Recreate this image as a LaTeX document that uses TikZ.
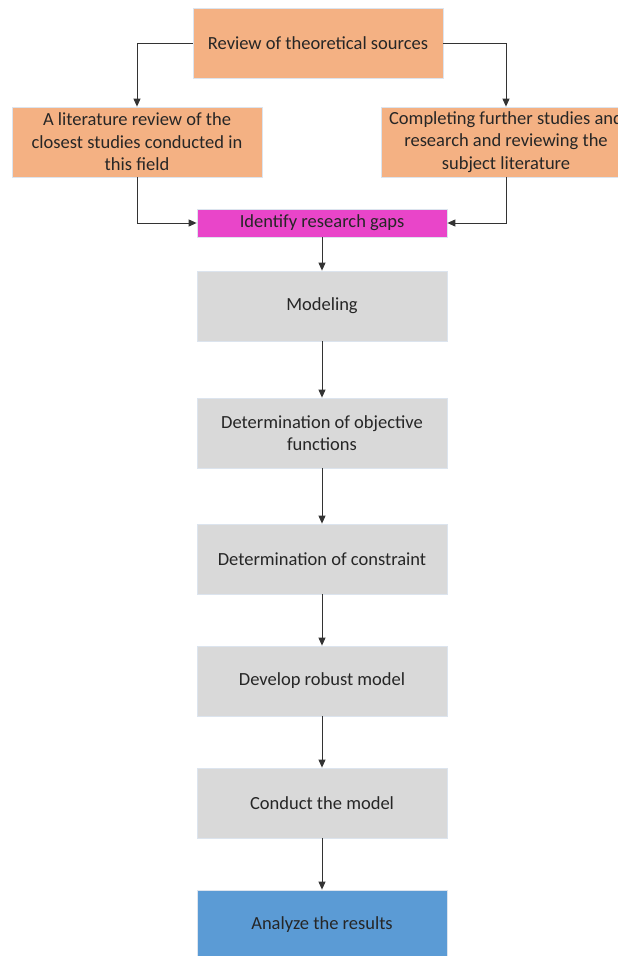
\documentclass[tikz,border=0pt]{standalone}
\usepackage{fontspec}
\setmainfont{Carlito}
\usetikzlibrary{arrows.meta}
\definecolor{orangebox}{HTML}{F4B183}
\definecolor{magbox}{HTML}{E945C9}
\definecolor{graybox}{HTML}{D9D9D9}
\definecolor{bluebox}{HTML}{5B9BD5}
\definecolor{edgecol}{HTML}{DCE4EE}
\definecolor{linecol}{HTML}{333333}
\tikzset{
  box/.style={rectangle, draw=edgecol, line width=0.8pt, minimum width=250pt, minimum height=70pt,
    align=center, inner sep=2pt, text=black!85, font=\fontsize{18.5}{22.5}\selectfont},
  conn/.style={draw=linecol, line width=0.9pt, -{Triangle[length=8pt,width=7pt]}},
}
\begin{document}
\begin{tikzpicture}[x=1pt,y=-1pt]
\clip (0,0) rectangle (618,956);
\fill[white] (0,0) rectangle (618,956);
\node[box, fill=orangebox] (top) at (318,43) {Review of theoretical sources};
\node[box, fill=orangebox] (left) at (137,142) {A literature review of the\\closest studies conducted in\\this field};
\node[box, fill=orangebox] (right) at (506,142) {Completing further studies and\\research and reviewing the\\subject literature};
\node[box, fill=magbox, minimum height=28pt] (gaps) at (322,223) {Identify research gaps};
\node[box, fill=graybox] (model) at (322,306) {Modeling};
\node[box, fill=graybox] (obj) at (322,433) {Determination of objective\\functions};
\node[box, fill=graybox] (cons) at (322,559) {Determination of constraint};
\node[box, fill=graybox] (robust) at (322,681) {Develop robust model};
\node[box, fill=graybox] (conduct) at (322,803) {Conduct the model};
\node[box, fill=bluebox] (analyze) at (322,925) {Analyze the results};

\draw[conn] (top.west) -| (left.north);
\draw[conn] (top.east) -| (right.north);
\draw[conn] (left.south) |- (gaps.west);
\draw[conn] (right.south) |- (gaps.east);
\draw[conn] (gaps.south) -- (model.north);
\draw[conn] (model.south) -- (obj.north);
\draw[conn] (obj.south) -- (cons.north);
\draw[conn] (cons.south) -- (robust.north);
\draw[conn] (robust.south) -- (conduct.north);
\draw[conn] (conduct.south) -- (analyze.north);
\end{tikzpicture}
\end{document}
